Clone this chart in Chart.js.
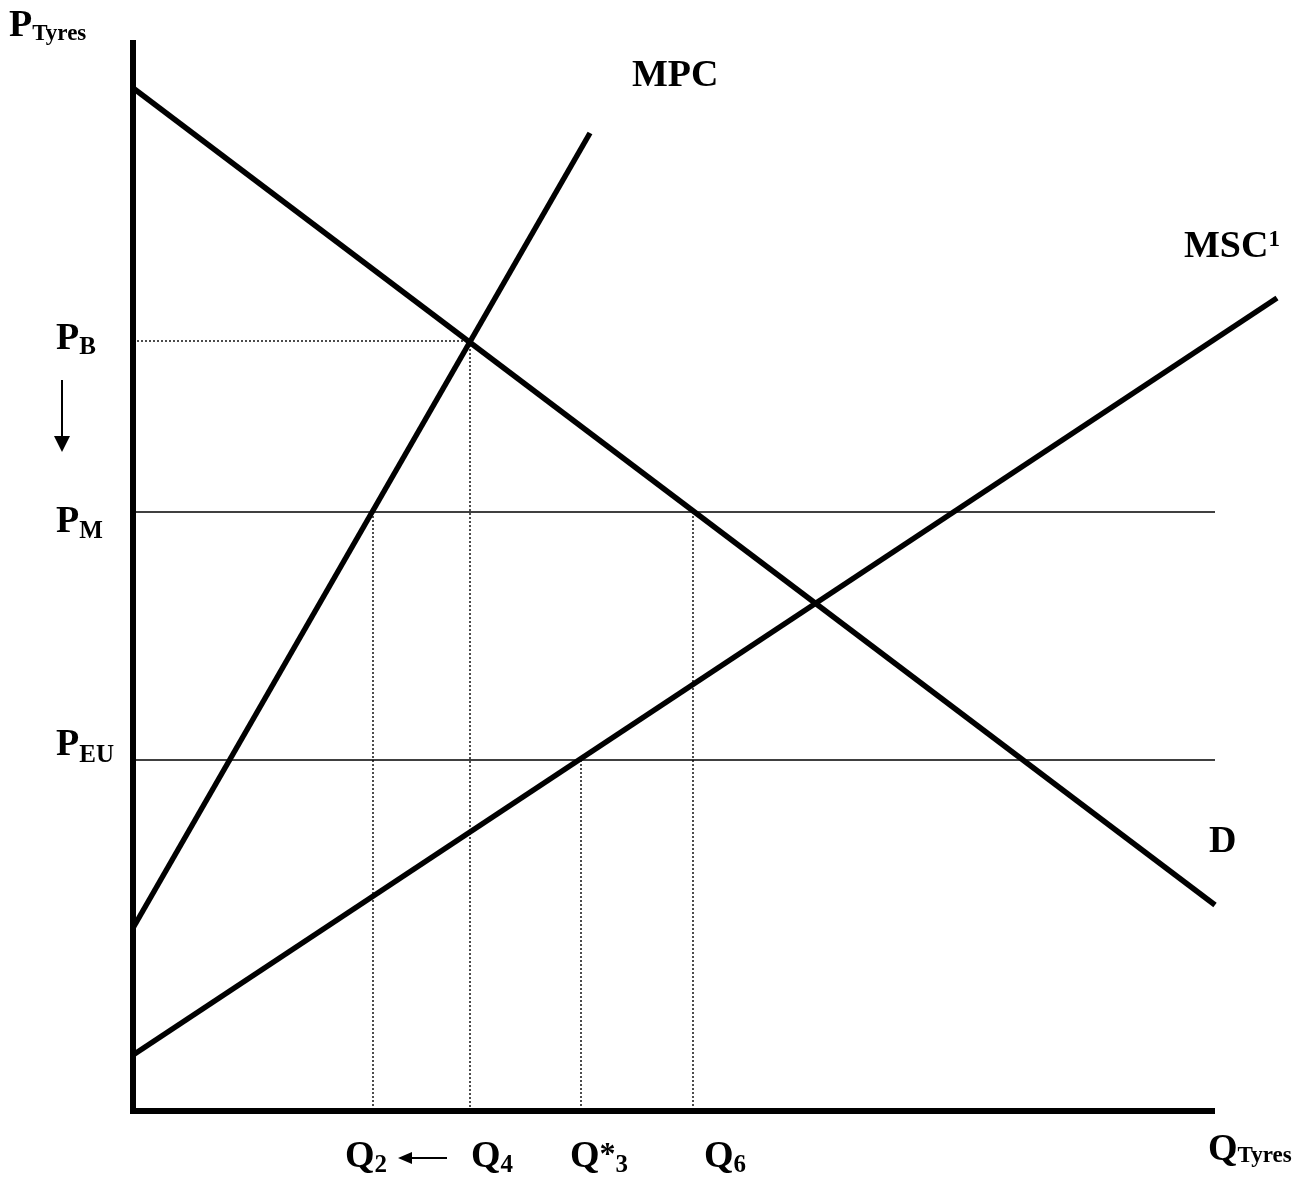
<!DOCTYPE html>
<html>
<head>
<meta charset="utf-8">
<script src="https://cdn.jsdelivr.net/npm/chart.js@4"></script>
<style>
  body { margin: 0; background: #fff; }
  canvas { display: block; }
</style>
</head>
<body>
<canvas id="chart" width="1314" height="1184"></canvas>
<script>
// Curves (quantity / price pairs, arbitrary units)
const demandQ = [0, 108.2];
const demandP = [102.3, 20.6];
const mpcQ = [0, 45.7];
const mpcP = [18.3, 97.8];
const mscQ = [0, 114.4];
const mscP = [5.6, 81.3];

// Price levels
const pB = 77.0;
const pM = 59.9;
const pEU = 35.1;

// Quantity levels
const q2 = 24.0;
const q4 = 33.7;
const q3 = 44.8;
const q6 = 56.0;

// Axis extents
const axisMaxQ = 108.2;
const axisMaxP = 106.8;

const seg = (x1, y1, x2, y2) => [{ x: x1, y: y1 }, { x: x2, y: y2 }];

function lineSet(data, width, dash, cap) {
  return {
    data,
    borderColor: "#000",
    borderWidth: width,
    borderDash: dash || [],
    borderCapStyle: cap || "butt",
    pointRadius: 0,
    tension: 0,
    fill: false,
    clip: false,
  };
}

const datasets = [
  // axes
  lineSet(seg(0, 0, 0, axisMaxP), 6, null, "square"),
  lineSet(seg(0, 0, axisMaxQ, 0), 6),
  // curves
  lineSet(seg(demandQ[0], demandP[0], demandQ[1], demandP[1]), 5.5),
  lineSet(seg(mpcQ[0], mpcP[0], mpcQ[1], mpcP[1]), 5.5),
  lineSet(seg(mscQ[0], mscP[0], mscQ[1], mscP[1]), 5.5),
  // world prices
  lineSet(seg(0, pM, axisMaxQ, pM), 1.4),
  lineSet(seg(0, pEU, axisMaxQ, pEU), 1.4),
  // dotted guides
  lineSet(seg(0, pB, q4, pB), 1.4, [2, 2]),
  lineSet(seg(q4, pB, q4, 0), 1.4, [2, 2]),
  lineSet(seg(q2, pM, q2, 0), 1.4, [2, 2]),
  lineSet(seg(q6, pM, q6, 0), 1.4, [2, 2]),
  lineSet(seg(q3, pEU, q3, 0), 1.4, [2, 2]),
];

const BIG = 38;
const SUB = 25;
const FONT = "'Liberation Serif', 'Times New Roman', serif";

// draw text runs with sub/superscripts
function rich(ctx, x, y, parts) {
  let cx = x;
  parts.forEach((p) => {
    ctx.font = "bold " + p.size + "px " + FONT;
    ctx.fillText(p.t, cx, y + (p.dy || 0));
    cx += ctx.measureText(p.t).width;
  });
}

function arrow(ctx, x1, y1, x2, y2, len, half) {
  const ang = Math.atan2(y2 - y1, x2 - x1);
  ctx.beginPath();
  ctx.lineWidth = 2;
  ctx.moveTo(x1, y1);
  ctx.lineTo(x2 - len * Math.cos(ang), y2 - len * Math.sin(ang));
  ctx.stroke();
  ctx.beginPath();
  ctx.moveTo(x2, y2);
  ctx.lineTo(x2 - len * Math.cos(ang) + half * Math.sin(ang), y2 - len * Math.sin(ang) - half * Math.cos(ang));
  ctx.lineTo(x2 - len * Math.cos(ang) - half * Math.sin(ang), y2 - len * Math.sin(ang) + half * Math.cos(ang));
  ctx.closePath();
  ctx.fill();
}

const labelPlugin = {
  id: "labels",
  afterDraw(chart) {
    const ctx = chart.ctx;
    const xs = chart.scales.x;
    const ys = chart.scales.y;
    ctx.save();
    ctx.fillStyle = "#000";
    ctx.strokeStyle = "#000";
    ctx.textBaseline = "alphabetic";

    // axis titles
    rich(ctx, 9, 36, [{ t: "P", size: BIG }, { t: "Tyres", size: SUB - 2, dy: 4 }]);
    rich(ctx, 1208, 1160, [{ t: "Q", size: BIG }, { t: "Tyres", size: SUB - 2, dy: 2 }]);

    // curve labels
    rich(ctx, 632, 86, [{ t: "MPC", size: BIG }]);
    rich(ctx, 1184, 257, [{ t: "MSC", size: BIG }, { t: "1", size: SUB - 2, dy: -11 }]);
    rich(ctx, 1209, 852, [{ t: "D", size: BIG }]);

    // price labels
    rich(ctx, 56, ys.getPixelForValue(pB) + 8, [{ t: "P", size: BIG }, { t: "B", size: SUB, dy: 5 }]);
    rich(ctx, 56, ys.getPixelForValue(pM) + 20, [{ t: "P", size: BIG }, { t: "M", size: SUB, dy: 6 }]);
    rich(ctx, 56, ys.getPixelForValue(pEU) - 5, [{ t: "P", size: BIG }, { t: "EU", size: SUB, dy: 7 }]);
    arrow(ctx, 62, 380, 62, 452, 16, 8);

    // quantity labels
    const qy = 1167;
    rich(ctx, xs.getPixelForValue(q2) - 28, qy, [{ t: "Q", size: BIG }, { t: "2", size: SUB, dy: 5 }]);
    rich(ctx, xs.getPixelForValue(q4) + 1, qy, [{ t: "Q", size: BIG }, { t: "4", size: SUB, dy: 5 }]);
    rich(ctx, xs.getPixelForValue(q3) - 11, qy, [{ t: "Q", size: BIG }, { t: "*", size: BIG - 6, dy: -3 }, { t: "3", size: SUB, dy: 5 }]);
    rich(ctx, xs.getPixelForValue(q6) + 11, qy, [{ t: "Q", size: BIG }, { t: "6", size: SUB, dy: 5 }]);
    arrow(ctx, 447, 1158, 398, 1158, 14, 6);

    ctx.restore();
  },
};

new Chart(document.getElementById("chart").getContext("2d"), {
  type: "line",
  data: { datasets },
  options: {
    responsive: false,
    animation: false,
    layout: { padding: { left: 133, right: 1, top: 11, bottom: 73 } },
    plugins: { legend: { display: false }, tooltip: { enabled: false } },
    scales: {
      x: { type: "linear", min: 0, max: 118, display: false },
      y: { type: "linear", min: 0, max: 110, display: false },
    },
  },
  plugins: [labelPlugin],
});
</script>
</body>
</html>
